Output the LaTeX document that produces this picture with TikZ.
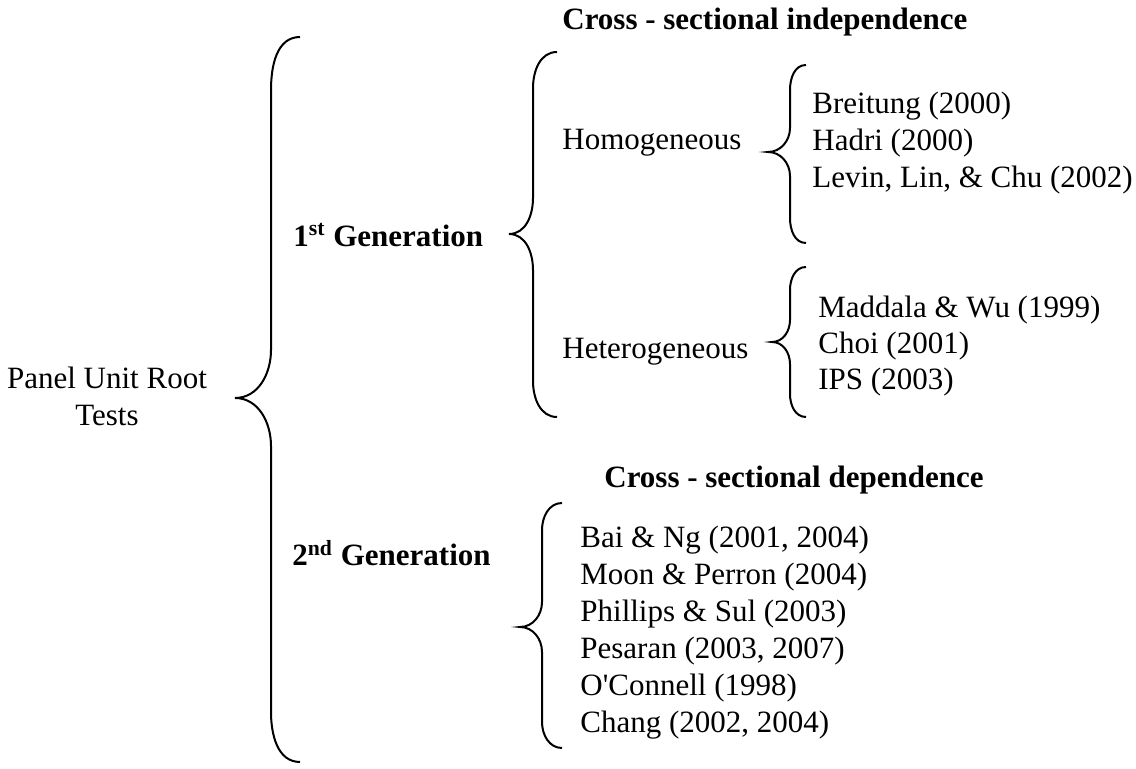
\documentclass[tikz,border=0pt]{standalone}
\usepackage{fontspec}
\setmainfont{Liberation Serif}
\begin{document}
\begin{tikzpicture}[
  x=0.5pt, y=-0.5pt,
  entry/.style={anchor=west, inner sep=0pt, font=\fontsize{15.5}{18.5}\selectfont},
  heading/.style={entry, font=\fontsize{15.5}{18.5}\selectfont\bfseries},
  curl/.style={draw=black, line width=1pt}
]
  \useasboundingbox (0,0) rectangle (1136,769);

  % left root
  \node[entry, anchor=center, align=center] (root) at (107, 396) {Panel Unit Root\\Tests};

  % generations
  \node[heading] (gen1) at (293, 235) {1\textsuperscript{st} Generation};
  \node[heading] (gen2) at (292, 553) {2\textsuperscript{nd} Generation};

  % headers
  \node[heading] (indep) at (562, 22) {Cross - sectional independence};
  \node[heading] (dep) at (604, 480) {Cross - sectional dependence};

  % first generation groups
  \node[entry] (homo) at (562, 143) {Homogeneous};
  \node[entry] (hetero) at (562, 352) {Heterogeneous};

  \node[entry] (b1) at (812, 106) {Breitung (2000)};
  \node[entry] (b2) at (812, 143) {Hadri (2000)};
  \node[entry] (b3) at (812, 180) {Levin, Lin, \& Chu (2002)};

  \node[entry] (h1) at (818, 310) {Maddala \& Wu (1999)};
  \node[entry] (h2) at (818, 346) {Choi (2001)};
  \node[entry] (h3) at (818, 382) {IPS (2003)};

  % second generation list
  \node[entry] (d1) at (580, 540) {Bai \& Ng (2001, 2004)};
  \node[entry] (d2) at (580, 577) {Moon \& Perron (2004)};
  \node[entry] (d3) at (580, 614) {Phillips \& Sul (2003)};
  \node[entry] (d4) at (580, 651) {Pesaran (2003, 2007)};
  \node[entry] (d5) at (580, 688) {O\textquotesingle Connell (1998)};
  \node[entry] (d6) at (580, 725) {Chang (2002, 2004)};

  % braces
  \draw[curl] (300, 37) to[out=180, in=90] (271, 90) -- (271, 350)
    to[out=270, in=0] (235, 398) to[out=0, in=90] (271, 446) -- (271, 712)
    to[out=270, in=180] (300, 762);
  \draw[curl] (557, 52) to[out=180, in=90] (533, 88) -- (533, 198)
    to[out=270, in=0] (509, 234) to[out=0, in=90] (533, 270) -- (533, 381)
    to[out=270, in=180] (557, 417);
  \draw[curl] (806, 65) to[out=180, in=90] (790, 90) -- (790, 128)
    to[out=270, in=0] (768, 152) to[out=0, in=90] (790, 176) -- (790, 218)
    to[out=270, in=180] (806, 243);
  \draw[curl] (806, 267) to[out=180, in=90] (790, 290) -- (790, 320)
    to[out=270, in=0] (772, 342) to[out=0, in=90] (790, 364) -- (790, 394)
    to[out=270, in=180] (806, 417);
  \draw[curl] (562, 503) to[out=180, in=90] (542, 530) -- (542, 602)
    to[out=270, in=0] (520, 627) to[out=0, in=90] (542, 652) -- (542, 722)
    to[out=270, in=180] (562, 748);
\end{tikzpicture}
\end{document}
